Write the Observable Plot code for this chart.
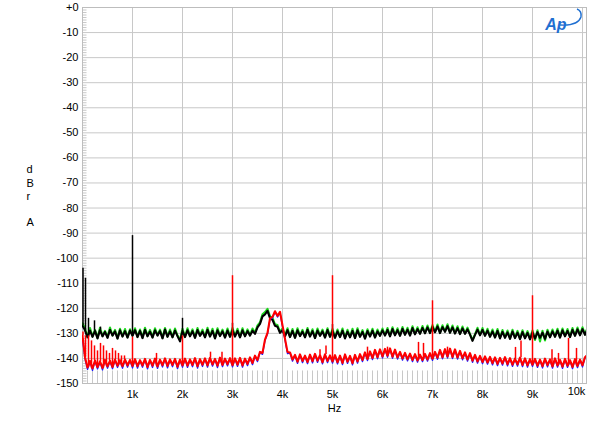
<!DOCTYPE html>
<html><head><meta charset="utf-8">
<script src="https://cdn.jsdelivr.net/npm/d3@7"></script>
<script src="https://cdn.jsdelivr.net/npm/@observablehq/plot@0.6"></script>
<style>
body{margin:0;background:#fff;}
#chart{position:relative;width:600px;height:426px;}
</style></head><body><div id="chart"></div>
<script>
// Frequency grid step (Hz) for the noise-floor traces
const stepHz = 50;

const greenDb = [
-126.0,-128.0,-131.4,-127.9,-131.2,-128.6,-131.8,-127.8,-131.0,-129.0,-131.5,-127.7,-130.8,-128.6,-131.9,-128.2,-131.1,-128.3,-131.5,-128.4,-130.8,
-128.0,-131.3,-128.5,-131.6,-127.8,-131.0,-128.6,-131.5,-128.0,-130.7,-128.5,-131.8,-127.9,-131.2,-128.5,-131.4,-128.1,-130.9,-132.6,-128.2,
-131.3,-128.0,-131.0,-128.4,-131.6,-127.9,-130.8,-128.5,-131.4,-127.8,-131.1,-128.2,-131.8,-128.0,-130.9,-128.5,-131.5,-128.1,-131.2,-127.9,
-131.1,-128.2,-131.4,-128.0,-131.0,-128.4,-130.7,-128.1,-129.8,-126.8,-125.6,-122.4,-121.5,-120.2,-123.2,-123.8,-126.4,-126.7,-129.4,-128.0,
-131.0,-128.0,-131.3,-128.3,-131.6,-128.0,-130.9,-128.6,-131.4,-127.9,-131.1,-128.4,-131.7,-128.1,-130.8,-128.5,-131.5,-128.0,-131.2,-128.3,
-131.6,-128.5,-131.3,-128.1,-131.8,-128.6,-131.4,-128.2,-131.7,-128.0,-131.2,-128.7,-131.9,-128.4,-131.1,-128.2,-131.5,-128.5,-130.8,-128.1,
-130.7,-127.9,-131.0,-127.6,-130.6,-128.0,-130.8,-127.5,-130.4,-127.8,-130.7,-127.2,-130.2,-127.6,-130.0,-127.1,-129.8,-126.9,-129.7,-126.7,
-129.4,-126.5,-129.7,-126.8,-129.2,-126.4,-129.6,-126.9,-129.9,-127.2,-130.1,-127.3,-130.0,-127.7,-130.3,-132.6,-130.4,-127.8,-130.6,-127.9,
-130.8,-128.2,-131.2,-128.5,-131.5,-128.3,-131.8,-128.7,-131.6,-128.9,-132.0,-128.6,-131.7,-129.0,-132.1,-128.8,-131.8,-129.1,-132.2,-128.9,
-132.6,-128.8,-133.2,-129.0,-132.8,-128.6,-131.4,-128.5,-131.2,-128.2,-131.5,-128.1,-131.0,-128.3,-131.3,-127.9,-130.8,-127.7,-130.6,-127.6,
-130.4,-127.7
];

const blackDb = [
-127.0,-128.8,-131.6,-128.9,-131.4,-129.0,-132.0,-128.7,-131.2,-129.4,-131.8,-128.6,-130.9,-129.2,-132.1,-128.8,-131.3,-129.1,-131.7,-128.9,-131.0,
-128.7,-131.5,-129.0,-131.9,-128.6,-131.2,-129.3,-131.7,-128.8,-130.9,-129.1,-132.0,-128.5,-131.4,-129.2,-131.6,-128.9,-131.1,-133.2,-129.0,
-131.5,-128.8,-131.2,-129.1,-131.8,-128.7,-131.0,-129.3,-131.6,-128.6,-131.3,-129.0,-132.0,-128.8,-131.1,-129.2,-131.7,-128.9,-131.4,-128.7,
-131.3,-129.0,-131.6,-128.8,-131.2,-129.1,-130.9,-128.9,-130.2,-127.6,-126.2,-123.2,-122.4,-121.0,-123.9,-124.6,-127.0,-127.4,-129.8,-128.8,
-131.2,-128.7,-131.5,-129.0,-131.8,-128.8,-131.1,-129.3,-131.6,-128.6,-131.3,-129.1,-131.9,-128.9,-131.0,-129.2,-131.7,-128.7,-131.4,-129.0,
-131.8,-129.2,-131.5,-128.9,-132.0,-129.3,-131.6,-129.0,-131.9,-128.8,-131.4,-129.4,-132.1,-129.1,-131.3,-128.9,-131.7,-129.2,-131.0,-128.8,
-130.9,-128.6,-131.2,-128.3,-130.8,-128.7,-131.0,-128.2,-130.6,-128.5,-130.9,-127.9,-130.4,-128.3,-130.2,-127.8,-130.0,-127.6,-129.9,-127.4,
-129.6,-127.2,-129.9,-127.5,-129.4,-127.1,-129.8,-127.6,-130.1,-127.9,-130.3,-128.0,-130.2,-128.4,-130.5,-133.0,-130.6,-128.5,-130.8,-128.6,
-131.0,-128.9,-131.4,-129.2,-131.7,-129.0,-132.0,-129.4,-131.8,-129.6,-132.2,-129.3,-131.9,-129.7,-132.3,-129.5,-132.0,-129.8,-132.4,-129.6,
-132.1,-129.5,-131.8,-129.7,-132.2,-129.3,-131.6,-129.2,-131.4,-128.9,-131.7,-128.8,-131.2,-129.0,-131.5,-128.6,-131.0,-128.4,-130.8,-128.3,
-130.6,-128.4
];

const blueDb = [
-132.0,-140.2,-144.4,-141.3,-144.8,-141.0,-144.2,-141.5,-144.6,-140.8,-143.9,-141.2,-144.1,-140.7,-143.6,-141.0,-143.9,-140.6,-143.5,-140.9,-143.8,
-140.5,-143.9,-140.9,-143.5,-140.4,-144.2,-140.8,-143.6,-140.3,-144.0,-140.7,-143.4,-140.2,-143.8,-140.6,-143.3,-140.4,-144.1,-140.7,-143.5,
-140.3,-143.6,-140.6,-143.3,-140.1,-143.9,-140.5,-143.2,-140.2,-143.5,-140.0,-143.1,-140.4,-143.7,-139.9,-143.3,-140.3,-143.0,-140.1,-143.4,
-140.2,-143.2,-140.0,-143.5,-140.3,-142.9,-139.8,-142.5,-139.1,-141.3,-137.6,-138.4,-132.8,-130.3,-124.3,-123.9,-121.5,-123.5,-121.7,-127.4,
-132.6,-138.1,-137.9,-141.1,-138.8,-142.0,-138.6,-141.7,-139.1,-142.1,-138.7,-141.8,-138.4,-141.6,-138.9,-142.2,-138.6,-141.7,-139.0,-141.9,
-138.9,-142.2,-139.1,-142.5,-138.6,-142.0,-139.2,-142.6,-138.8,-141.9,-138.5,-141.3,-137.8,-140.9,-137.4,-140.5,-136.8,-140.2,-136.6,-139.9,
-136.4,-139.6,-136.2,-140.0,-136.7,-140.3,-137.6,-140.7,-138.0,-141.0,-138.3,-141.3,-138.5,-141.5,-138.7,-141.3,-138.4,-141.1,-138.1,-140.8,
-137.6,-140.4,-136.8,-140.2,-136.5,-139.9,-136.3,-140.1,-136.6,-140.3,-137.2,-140.6,-137.8,-141.1,-138.1,-141.6,-138.8,-141.9,-139.2,-142.1,
-139.4,-142.3,-139.6,-142.6,-139.8,-142.9,-140.0,-142.7,-139.7,-143.0,-140.1,-143.2,-140.3,-143.1,-139.9,-143.3,-140.2,-143.5,-140.5,-143.2,
-140.4,-143.6,-140.7,-143.8,-140.3,-143.4,-140.6,-143.9,-140.2,-143.5,-140.8,-144.0,-140.4,-143.6,-140.9,-144.1,-140.5,-143.7,-140.7,-143.4,
-139.7,-139.0
];

const redDb = [
-131.0,-139.5,-143.6,-141.0,-144.0,-140.8,-143.5,-141.2,-143.8,-140.6,-143.2,-140.9,-143.4,-140.5,-142.9,-140.7,-143.1,-140.4,-142.8,-140.6,-143.0,
-140.3,-143.1,-140.7,-142.8,-140.2,-143.4,-140.6,-142.9,-140.1,-143.2,-140.5,-142.7,-140.0,-143.0,-140.4,-142.6,-140.2,-143.3,-140.5,-142.8,
-140.1,-142.9,-140.4,-142.6,-139.9,-143.1,-140.3,-142.5,-140.0,-142.8,-139.8,-142.4,-140.2,-142.9,-139.7,-142.6,-140.1,-142.3,-139.9,-142.7,
-140.0,-142.5,-139.8,-142.8,-140.1,-142.2,-139.6,-141.8,-138.9,-140.6,-137.4,-137.8,-132.5,-129.8,-124.0,-123.4,-121.2,-123.0,-121.4,-126.8,
-132.2,-137.4,-137.6,-140.4,-138.6,-141.3,-138.4,-141.0,-138.9,-141.4,-138.5,-141.1,-138.2,-140.9,-138.7,-141.5,-138.4,-141.0,-138.8,-141.2,
-138.7,-141.5,-138.9,-141.8,-138.4,-141.3,-139.0,-141.9,-138.6,-141.2,-138.3,-140.6,-137.6,-140.2,-137.2,-139.8,-136.6,-139.5,-136.4,-139.2,
-136.2,-138.9,-136.0,-139.3,-136.5,-139.6,-137.4,-140.0,-137.8,-140.3,-138.1,-140.6,-138.3,-140.8,-138.5,-140.6,-138.2,-140.4,-137.9,-140.1,
-137.4,-139.7,-136.6,-139.5,-136.3,-139.2,-136.1,-139.4,-136.4,-139.6,-137.0,-139.9,-137.6,-140.4,-137.9,-140.9,-138.6,-141.2,-139.0,-141.4,
-139.2,-141.6,-139.4,-141.9,-139.6,-142.2,-139.8,-142.0,-139.5,-142.3,-139.9,-142.5,-140.1,-142.4,-139.7,-142.6,-140.0,-142.8,-140.3,-142.5,
-140.2,-142.9,-140.5,-143.1,-140.1,-142.7,-140.4,-143.2,-140.0,-142.8,-140.6,-143.3,-140.2,-142.9,-140.7,-143.4,-140.3,-143.0,-140.5,-142.7,
-139.5,-138.6
];

// Discrete spectral lines (Hz, peak dB)
const blackSpikeHz = [10, 60, 120, 240, 360, 1000, 2000, 3000, 5000];
const blackSpikeDb = [-104, -108, -124, -125, -127.5, -91, -124, -126, -126.5];
const redSpikeHz = [10,60,120,180,240,300,360,420,480,540,600,660,720,780,840,1000,1480,2000,2560,2790,3000,4750,4870,5000,5700,6100,6720,6820,7000,7300,8660,8770,9000,9390,9520,9720,9880];
const redSpikeDb = [-129.5,-131,-131,-133,-135,-137,-134,-135,-137,-138,-136,-137,-138,-139,-139,-131.5,-138,-131,-137.5,-137.5,-107,-136.5,-135,-107,-135.5,-135.5,-133.6,-134,-117,-135.5,-135.6,-133,-115,-136.5,-138,-132,-136];

// Axis ticks
const xTicksHz = [1000,2000,3000,4000,5000,6000,7000,8000,9000];
const xGridHz = [1000,2000,3000,4000,5000,6000,7000,8000,9000,10000];
const yTicksDb = [0,-10,-20,-30,-40,-50,-60,-70,-80,-90,-100,-110,-120,-130,-140,-150];
const yGridDb = [-10,-20,-30,-40,-50,-60,-70,-80,-90,-100,-110,-120,-130,-140];

const toRows = arr => arr.map((v, i) => ({f: i * stepHz, db: v}));
const spikes = (hz, db, base) => hz.map((f, i) => ({f, peak: db[i], base: base[Math.round(f / stepHz)]}));

const minorHz = d3.range(100, 10080, 100).filter(f => f % 1000 !== 0);
const minorDb = d3.range(-149, 0, 1).filter(d => d % 10 !== 0);

const cGreen = "#1ed81e", cBlack = "#000000", cBlue = "#1a1aff", cRed = "#ff0000";
const grid = "#c8c8c8";
const traceW = 2.1;

const chart = Plot.plot({
  width: 600, height: 426,
  marginLeft: 82, marginRight: 14, marginTop: 7, marginBottom: 43,
  style: {fontFamily: "'Liberation Sans', Arial, sans-serif", fontSize: "11px", background: "#fff", color: "#000", overflow: "visible"},
  x: {domain: [0, 10080]},
  y: {domain: [-150, 0]},
  marks: [
    Plot.ruleX(xGridHz, {stroke: grid}),
    Plot.ruleY(yGridDb, {stroke: grid}),
    Plot.ruleX(minorHz, {y1: -150, y2: -145, stroke: grid}),
    Plot.ruleY(minorDb, {x1: 0, x2: 90, stroke: grid}),
    Plot.frame({stroke: "#bdbdbd"}),
    Plot.axisY(yTicksDb, {tickSize: 0, tickPadding: 4, tickFormat: d => d === 0 ? "+0" : String(d), label: null, fontSize: 11}),
    Plot.axisX(xTicksHz, {tickSize: 0, tickPadding: 7, tickFormat: d => (d / 1000) + "k", label: null, fontSize: 11}),
    Plot.text([10000], {x: d => d, frameAnchor: "bottom", dy: 11, dx: -6, text: d => (d / 1000) + "k", fontSize: 11}),
    Plot.text(["Hz"], {frameAnchor: "bottom", dy: 28, text: d => d, fontSize: 11}),
    Plot.text(["d\nB\nr\n\nA"], {frameAnchor: "left", dx: -56, text: d => d, lineHeight: 1.2, fontSize: 11}),
    Plot.line(toRows(greenDb), {x: "f", y: "db", stroke: cGreen, strokeWidth: traceW, clip: true}),
    Plot.line(toRows(blackDb), {x: "f", y: "db", stroke: cBlack, strokeWidth: traceW, clip: true}),
    Plot.ruleX(spikes(blackSpikeHz, blackSpikeDb, blackDb), {x: "f", y1: "base", y2: "peak", stroke: cBlack, strokeWidth: 1.5}),
    Plot.line(toRows(blueDb), {x: "f", y: "db", stroke: cBlue, strokeWidth: 1.3, clip: true}),
    Plot.line(toRows(redDb), {x: "f", y: "db", stroke: cRed, strokeWidth: traceW, clip: true}),
    Plot.ruleX(spikes(redSpikeHz, redSpikeDb, redDb), {x: "f", y1: "base", y2: "peak", stroke: cRed, strokeWidth: 1.5}),
    Plot.text(["Ap"], {frameAnchor: "top-right", dx: -20, dy: 11, text: d => d, fill: "#1f6fd1", fontStyle: "italic", fontWeight: "bold", fontSize: 16})
  ]
});
document.getElementById("chart").appendChild(chart);
// logo swoosh
d3.select(chart).append("path")
  .attr("d", "M560,25 Q578,26 581,17 Q582,11 577,9")
  .attr("fill", "none").attr("stroke", "#1f6fd1").attr("stroke-width", 1.4);
</script>
</body></html>
